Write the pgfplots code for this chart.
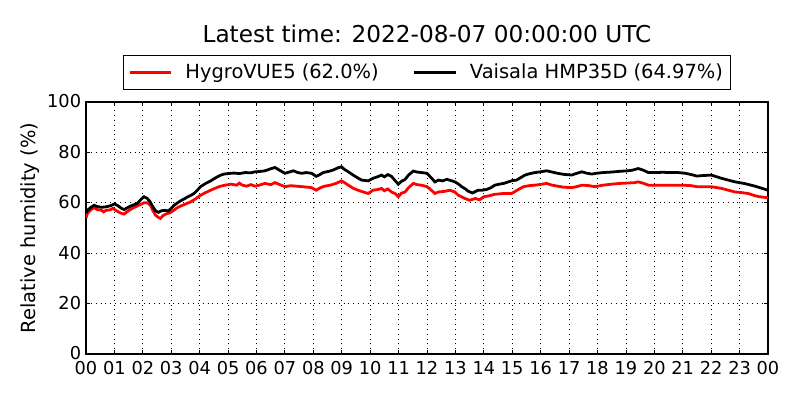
\documentclass[border=0pt]{standalone}
\usepackage{pgfplots}
\pgfplotsset{compat=1.18}
\usepackage{fontspec}
\setmainfont{DejaVu Sans}
\definecolor{mplred}{RGB}{255,0,0}
\begin{document}
\begin{tikzpicture}
\begin{axis}[
  at={(0,0)}, anchor=south west,
  scale only axis,
  width=491.04pt, height=181.44pt,
  xmin=0, xmax=24, ymin=0, ymax=100,
  xtick={0,1,...,24},
  xticklabels={00,01,02,03,04,05,06,07,08,09,10,11,12,13,14,15,16,17,18,19,20,21,22,23,00},
  ytick={0,20,40,60,80,100},
  /pgf/number format/assume math mode=true,
  ticklabel style={font=\fontsize{12.8}{14}\selectfont},
  xticklabel style={inner xsep=0pt, inner ysep=0pt, yshift=-5.4pt},
  yticklabel style={inner ysep=0pt, yshift=0.4pt},
  tick align=inside,
  major tick length=3pt,
  tick style={black, line width=0.6pt},
  axis line style={black, line width=1pt},
  grid=major,
  major grid style={black, line width=0.6pt, dash pattern=on 0.6pt off 2.9pt},
  ylabel={Relative humidity (\%)},
  ylabel style={at={(axis description cs:-0.082,0.5)}, anchor=center, font=\fontsize{14}{16}\selectfont},
  title={Latest time: 2022-08-07 00:00:00 UTC},
  title style={at={(axis description cs:0.5,1.238)}, anchor=base, yshift=-6.5pt, font=\fontsize{16.7}{18}\selectfont},
  legend columns=2,
  legend style={at={(axis description cs:0.5,1.117)}, anchor=center, draw=black, line width=0.8pt,
    font=\fontsize{14}{16}\selectfont, inner xsep=3.3pt, inner ysep=4pt,
    /tikz/every even column/.append style={column sep=22.5pt}},
  legend image code/.code={\draw[#1] (0pt,0pt) -- (30pt,0pt); \path (37.2pt,0pt);},
]
\addplot[mplred, line width=2pt] coordinates {
(0.00,54.0) (0.05,55.8) (0.15,57.0) (0.28,58.1) (0.40,57.3) (0.55,57.0) (0.62,56.4) (0.70,57.0) (0.85,57.2)
(0.95,57.8) (1.05,57.0) (1.20,56.0) (1.34,55.5) (1.45,56.5) (1.57,57.4) (1.70,58.2) (1.80,58.7)
(1.95,59.5) (2.04,60.0) (2.15,60.0) (2.27,59.0) (2.35,57.0) (2.45,55.0) (2.55,54.2) (2.62,53.8)
(2.70,54.8) (2.80,55.5) (2.95,56.0) (3.10,57.1) (3.20,58.0) (3.33,58.7) (3.50,59.5) (3.69,60.4)
(3.85,61.5) (4.03,63.0) (4.20,64.0) (4.39,65.0) (4.55,65.8) (4.74,66.6) (4.90,67.0) (5.10,67.4)
(5.30,67.0) (5.40,67.8) (5.50,67.0) (5.65,66.6) (5.80,67.2) (5.95,66.6) (6.10,67.0) (6.30,67.7)
(6.50,67.2) (6.65,68.0) (6.80,67.3) (7.00,66.4) (7.20,66.8) (7.40,66.6) (7.60,66.4) (7.80,66.2)
(7.94,66.0) (8.10,65.0) (8.25,66.0) (8.40,66.6) (8.60,67.0) (8.80,67.7) (8.99,68.7) (9.10,68.0)
(9.23,67.0) (9.40,65.8) (9.50,65.3) (9.70,64.5) (9.93,63.7) (10.10,65.0) (10.25,65.2) (10.40,65.7)
(10.50,64.8) (10.62,65.5) (10.75,64.3) (10.90,63.5) (10.99,62.4) (11.10,63.8) (11.23,64.3)
(11.35,66.0) (11.52,67.7) (11.65,67.2) (11.80,67.0) (12.00,66.4) (12.10,65.5) (12.28,63.7)
(12.40,64.3) (12.60,64.5) (12.80,65.0) (12.98,64.3) (13.10,63.0) (13.34,61.7) (13.50,61.0)
(13.70,61.7) (13.85,61.2) (14.00,62.4) (14.20,62.8) (14.35,63.3) (14.51,63.5) (14.70,63.7)
(14.98,63.7) (15.10,64.5) (15.25,65.5) (15.40,66.4) (15.60,66.8) (15.80,67.0) (16.00,67.3)
(16.21,67.7) (16.40,67.0) (16.60,66.6) (16.80,66.2) (17.09,66.0) (17.30,66.5) (17.45,67.0)
(17.70,66.8) (17.91,66.4) (18.20,67.0) (18.50,67.4) (18.80,67.7) (19.00,67.8) (19.30,68.0)
(19.43,68.3) (19.60,67.8) (19.79,67.0) (20.20,67.0) (20.60,67.0) (21.00,67.0) (21.30,66.8)
(21.50,66.4) (21.80,66.4) (22.00,66.4) (22.37,65.7) (22.60,65.0) (22.84,64.3) (23.10,64.0)
(23.30,63.7) (23.54,62.8) (23.70,62.4) (24.00,62.0)
};
\addlegendentry{HygroVUE5 (62.0\%)}
\addplot[black, line width=2pt] coordinates {
(0.00,56.0) (0.05,57.0) (0.15,58.0) (0.28,59.0) (0.40,58.5) (0.55,58.2) (0.70,58.4) (0.85,58.8)
(1.00,59.5) (1.10,59.0) (1.25,57.8) (1.34,57.3) (1.45,58.0) (1.57,58.7) (1.70,59.3) (1.80,59.7)
(1.95,61.5) (2.04,62.4) (2.15,61.8) (2.25,60.5) (2.35,58.5) (2.45,56.8) (2.55,56.2) (2.65,56.8)
(2.75,57.0) (2.90,56.8) (3.00,57.8) (3.10,59.0) (3.20,59.8) (3.33,60.8) (3.45,61.5) (3.57,62.3)
(3.70,63.0) (3.80,63.7) (3.92,65.0) (4.03,66.4) (4.20,67.6) (4.39,68.7) (4.50,69.5) (4.62,70.3)
(4.75,71.0) (4.86,71.4) (5.00,71.6) (5.20,71.8) (5.40,71.6) (5.60,72.0) (5.80,71.9) (5.95,72.3)
(6.10,72.4) (6.30,72.7) (6.50,73.5) (6.65,74.0) (6.80,73.0) (7.00,71.7) (7.15,72.2) (7.30,72.7)
(7.45,72.0) (7.60,71.7) (7.75,72.0) (7.94,71.7) (8.10,70.5) (8.20,71.0) (8.35,72.0) (8.55,72.5)
(8.70,73.0) (8.85,73.8) (8.99,74.3) (9.10,73.2) (9.23,72.3) (9.40,71.0) (9.50,70.3) (9.70,69.0)
(9.93,68.7) (10.10,69.7) (10.30,70.5) (10.40,71.0) (10.50,70.3) (10.62,71.2) (10.75,70.5)
(10.90,68.5) (10.99,67.4) (11.10,68.5) (11.23,69.3) (11.35,71.0) (11.52,72.6) (11.65,72.2)
(11.80,72.0) (12.00,71.7) (12.10,70.5) (12.28,68.3) (12.40,69.0) (12.55,68.7) (12.70,69.3)
(12.85,68.8) (12.98,68.3) (13.10,67.5) (13.22,66.4) (13.35,65.5) (13.45,64.6) (13.60,63.9)
(13.80,65.0) (13.95,65.0) (14.10,65.3) (14.25,66.0) (14.39,67.0) (14.55,67.4) (14.70,67.7)
(14.86,68.3) (15.00,68.8) (15.15,69.0) (15.30,70.0) (15.45,71.0) (15.60,71.5) (15.80,72.0)
(16.00,72.3) (16.21,72.7) (16.40,72.2) (16.60,71.7) (16.80,71.3) (17.09,71.0) (17.30,71.8)
(17.45,72.3) (17.60,71.8) (17.80,71.4) (17.95,71.7) (18.20,72.0) (18.50,72.2) (18.80,72.5)
(19.08,72.7) (19.25,73.0) (19.43,73.6) (19.60,73.0) (19.79,72.0) (20.00,72.0) (20.30,72.1)
(20.60,72.0) (20.84,72.0) (21.10,71.7) (21.30,71.2) (21.50,70.6) (21.70,70.8) (22.00,71.0)
(22.20,70.3) (22.37,69.7) (22.60,69.0) (22.84,68.3) (23.10,67.8) (23.30,67.3) (23.54,66.6)
(23.80,65.7) (24.00,65.0)
};
\addlegendentry{Vaisala HMP35D (64.97\%)}
\end{axis}
\pgfresetboundingbox
\path[use as bounding box] (-61.92pt,-33.12pt) rectangle (514.08pt,254.88pt);
\end{tikzpicture}
\end{document}
